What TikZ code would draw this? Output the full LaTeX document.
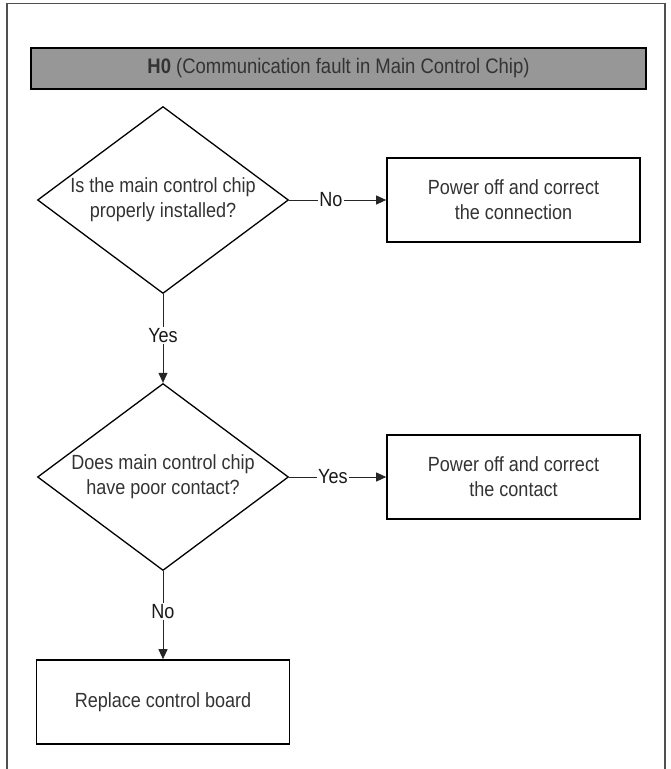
\documentclass[tikz,border=0pt]{standalone}
\usepackage{fontspec}
\setmainfont[FakeStretch=0.88]{Liberation Sans}
\usetikzlibrary{shapes.geometric,arrows.meta}
\definecolor{txtgray}{HTML}{333333}
\definecolor{bargray}{HTML}{979797}
\definecolor{framegray}{HTML}{505050}
\tikzset{
  dia/.style={shape=diamond, draw=black, line width=1.3pt, inner sep=0pt,
              minimum width=251pt, minimum height=187pt},
  txt/.style={align=center, text=txtgray, font=\fontsize{20.5}{25}\selectfont, inner sep=0pt},
  actbox/.style={shape=rectangle, draw=black, line width=1.6pt, minimum width=253pt,
                 minimum height=84pt, align=center, text=txtgray,
                 font=\fontsize{20.5}{25}\selectfont},
  conn/.style={draw=black!85, line width=0.9pt, -{Triangle[length=10pt,width=9pt]}},
  lbl/.style={fill=white, text=black!90, font=\fontsize{20.5}{25}\selectfont, inner sep=1.5pt}
}
\begin{document}
\begin{tikzpicture}[x=1pt,y=-1pt]
\useasboundingbox (0,0) rectangle (671,769);
% outer frame
\coordinate (fbl) at (7,769);
\coordinate (ftl) at (7,3.5);
\coordinate (ftr) at (665,3.5);
\coordinate (fbr) at (665,769);
\draw[framegray, line width=1.5pt] (fbl) -- (ftl) -- (ftr) -- (fbr);
% title bar
\node[draw=black, line width=1.3pt, fill=bargray, minimum width=615pt, minimum height=41pt,
      inner sep=0pt, text=txtgray, font=\fontsize{21}{25}\selectfont] (title) at (338.5,68.5)
      {\textbf{H0} (Communication fault in Main Control Chip)};
% decisions
\node[dia] (d1) at (163,200) {};
\node[txt] (t1) at (d1.center) {Is the main control chip\\properly installed?};
\node[dia] (d2) at (163,477) {};
\node[txt] (t2) at (d2.center) {Does main control chip\\have poor contact?};
% actions
\node[actbox] (b1) at (513.5,200) {Power off and correct\\the connection};
\node[actbox] (b2) at (513.5,477) {Power off and correct\\the contact};
\node[actbox] (b3) at (163,702) {Replace control board};
% connectors
\draw[conn] (d1.east) -- node[lbl, pos=0.43] {No} (b1.west);
\draw[conn] (d1.south) -- node[lbl, pos=0.47] {Yes} (d2.north);
\draw[conn] (d2.east) -- node[lbl, pos=0.45] {Yes} (b2.west);
\draw[conn] (d2.south) -- node[lbl, pos=0.46] {No} (b3.north);
\end{tikzpicture}
\end{document}
